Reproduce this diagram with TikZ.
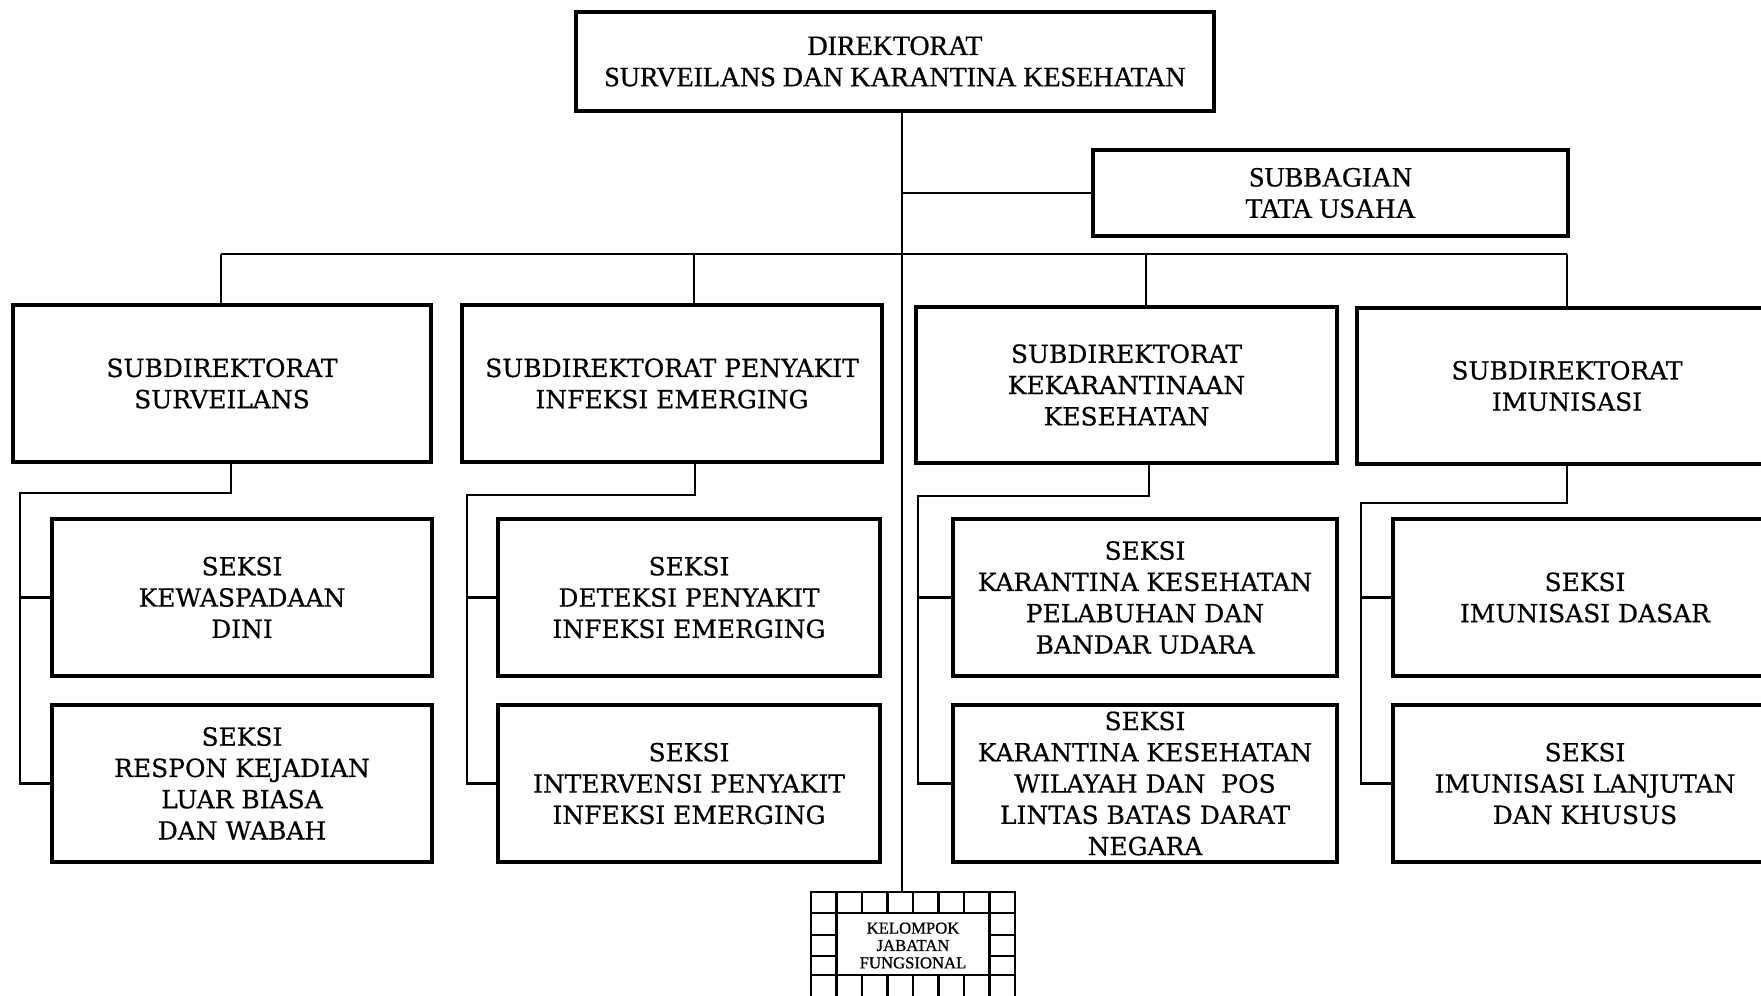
\documentclass[tikz,border=0pt]{standalone}
\usepackage{fontspec}
\setmainfont{DejaVu Serif}[FakeBold=0.6]
\newfontfamily\timesfont{Liberation Serif}[FakeBold=0.8]
\usepackage{tikz}
\usetikzlibrary{positioning, calc}

\begin{document}
\begin{tikzpicture}[x=0.02cm, y=-0.02cm,
    unit/.style={draw, line width=1.8pt, fill=white, align=center, inner sep=0pt},
    size/.style 2 args={minimum width=#1*0.02cm, minimum height=#2*0.02cm},
    seksitext/.style={font=\fontsize{14.2}{17.8}\selectfont},
    headtext/.style={font=\timesfont\fontsize{15.9}{17.8}\selectfont},
    link/.style={line width=1.5pt}]

      \useasboundingbox (0,0) rectangle (1761,995);
      \clip (0,0) rectangle (1761,995);
      \fill[white] (0,0) rectangle (1761,995);

      % Direktorat
      \node[unit, headtext, size={638}{99}] (dir) at (895,61.5) {DIREKTORAT\\SURVEILANS DAN KARANTINA KESEHATAN};

      % Subbagian tata usaha
      \node[unit, headtext, size={475}{86}] (tu) at (1330.5,193) {SUBBAGIAN\\TATA USAHA};

      % Subdirektorat
      \node[unit, seksitext, size={418}{157}] (sd1) at (222,383.5) {SUBDIREKTORAT\\SURVEILANS};
      \node[unit, seksitext, size={420}{157}] (sd2) at (672,383.5) {SUBDIREKTORAT PENYAKIT\\INFEKSI EMERGING};
      \node[unit, seksitext, size={421}{156}] (sd3) at (1126.5,385) {SUBDIREKTORAT\\KEKARANTINAAN\\KESEHATAN};
      \node[unit, seksitext, size={420}{156}] (sd4) at (1567,386) {SUBDIREKTORAT\\IMUNISASI};

      % Seksi
      \node[unit, seksitext, size={380}{157}] (s11) at (242,597.5) {SEKSI\\KEWASPADAAN\\DINI};
      \node[unit, seksitext, size={380}{157}] (s12) at (242,783.5) {SEKSI\\RESPON KEJADIAN\\LUAR BIASA\\DAN WABAH};
      \node[unit, seksitext, size={382}{157}] (s21) at (689,597.5) {SEKSI\\DETEKSI PENYAKIT\\INFEKSI EMERGING};
      \node[unit, seksitext, size={382}{157}] (s22) at (689,783.5) {SEKSI\\INTERVENSI PENYAKIT\\INFEKSI EMERGING};
      \node[unit, seksitext, size={384}{157}] (s31) at (1145,597.5) {SEKSI\\KARANTINA KESEHATAN\\PELABUHAN DAN\\BANDAR UDARA};
      \node[unit, seksitext, size={384}{157}] (s32) at (1145,783.5) {SEKSI\\KARANTINA KESEHATAN\\WILAYAH DAN\ \ POS\\LINTAS BATAS DARAT\\NEGARA};
      \node[unit, seksitext, size={384}{157}] (s41) at (1585,597.5) {SEKSI\\IMUNISASI DASAR};
      \node[unit, seksitext, size={384}{157}] (s42) at (1585,783.5) {SEKSI\\IMUNISASI LANJUTAN\\DAN KHUSUS};

      % Kelompok jabatan fungsional
      \node[draw, line width=1.6pt, fill=white, size={204}{107}, align=center, inner sep=0pt,
            font=\timesfont\fontsize{9.5}{9.9}\selectfont] (kjf) at (913,945.5) {KELOMPOK\\JABATAN\\FUNGSIONAL};
      \foreach \x in {836.5, 862, 887.5, 913, 938.5, 964, 989.5} {
        \draw[line width=1.6pt] (\x,892) -- (\x,913);
        \draw[line width=1.6pt] (\x,975) -- (\x,999);
      }
      \draw[line width=1.6pt] (811,913) -- (1015,913);
      \draw[line width=1.6pt] (811,975) -- (1015,975);
      \foreach \y in {935, 956} {
        \draw[line width=1.6pt] (811,\y) -- (836.5,\y);
        \draw[line width=1.6pt] (989.5,\y) -- (1015,\y);
      }
      \draw[line width=1.6pt] (836.5,913) -- (836.5,975);
      \draw[line width=1.6pt] (989.5,913) -- (989.5,975);

      % Trunk and bus
      \coordinate (trunk) at (902,0);
      \coordinate (bus1) at (221,254);
      \coordinate (bus2) at (694,254);
      \coordinate (bus3) at (1146,254);
      \coordinate (bus4) at (1567,254);
      \draw[link] (dir.south -| trunk) -- (kjf.north -| trunk);
      \draw[link] (tu.west) -- (tu.west -| trunk);
      \draw[link] (bus1) -- (bus4);
      \draw[link] (bus1) -- (bus1 |- sd1.north);
      \draw[link] (bus2) -- (bus2 |- sd2.north);
      \draw[link] (bus3) -- (bus3 |- sd3.north);
      \draw[link] (bus4) -- (bus4 |- sd4.north);

      % Rails to seksi
      \coordinate (k1) at (231,493);  \coordinate (r1) at (20,493);
      \coordinate (k2) at (695,495);  \coordinate (r2) at (467,495);
      \coordinate (k3) at (1149,496); \coordinate (r3) at (918,496);
      \coordinate (k4) at (1567,503); \coordinate (r4) at (1361,503);
      \draw[link] (k1 |- sd1.south) -- (k1) -- (r1) |- (s12.west);
      \draw[link] (s11.west -| r1) -- (s11.west);
      \draw[link] (k2 |- sd2.south) -- (k2) -- (r2) |- (s22.west);
      \draw[link] (s21.west -| r2) -- (s21.west);
      \draw[link] (k3 |- sd3.south) -- (k3) -- (r3) |- (s32.west);
      \draw[link] (s31.west -| r3) -- (s31.west);
      \draw[link] (k4 |- sd4.south) -- (k4) -- (r4) |- (s42.west);
      \draw[link] (s41.west -| r4) -- (s41.west);
    \end{tikzpicture}
\end{document}
